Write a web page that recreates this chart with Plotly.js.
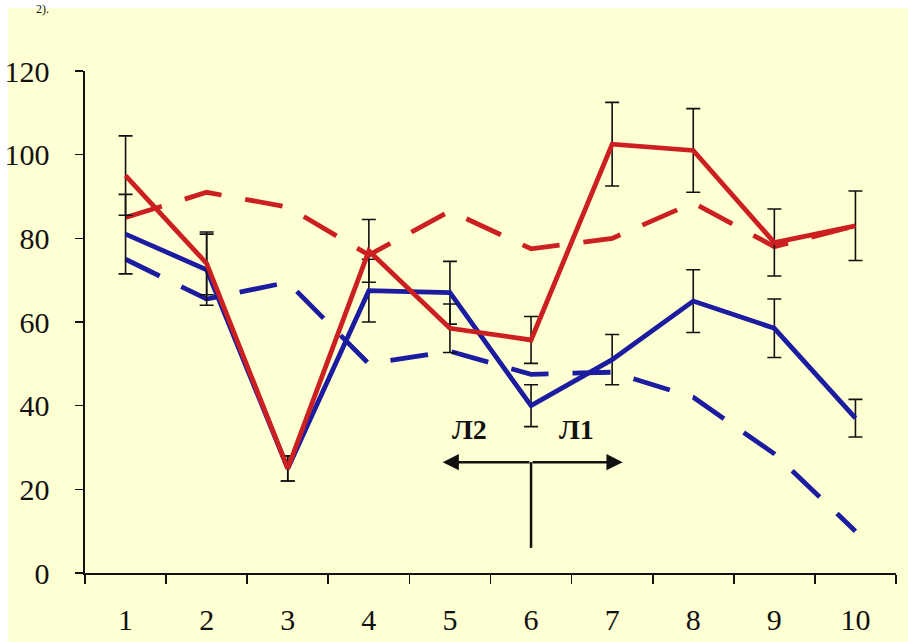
<!DOCTYPE html>
<html>
<head>
<meta charset="utf-8">
<script src="https://cdn.plot.ly/plotly-3.0.1.min.js"></script>
<style>html,body{margin:0;padding:0;background:#fff;}#chart{width:908px;height:642px;}</style>
</head>
<body>
<div id="chart"></div>
<script>
// Categories
const categories = [1, 2, 3, 4, 5, 6, 7, 8, 9, 10];
// Series values
const redSolid   = [95, 74, 25, 77, 58.5, 55.7, 102.5, 101, 79, 83];
const redErr     = [9.5, 7.5, 3, 7.5, 5.8, 5.6, 10, 10, 8, 8.3];
const redDashed  = [85, 91, 87.5, 76, 86.5, 77.5, 80, 88.5, 78, 83];
const blueSolid  = [81, 72.5, 25, 67.5, 67, 40, 51, 65, 58.5, 37];
const blueErr    = [9.5, 8.5, 3, 7.5, 7.5, 5, 6, 7.5, 7, 4.5];
const blueDashed = [75, 65.5, 69.5, 50, 53, 47.5, 48, 42, 28.5, 10];
// Tick labels
const xTickLabels = ['1','2','3','4','5','6','7','8','9','10'];
const yTickVals = [0, 20, 40, 60, 80, 100, 120];
// Annotation labels
const leftLabel = 'Л2';
const rightLabel = 'Л1';
const topText = '2).';

const RED = '#cc2020';
const BLUE = '#1c1ca0';
const CREAM = '#ffffd4';

const W = 908, H = 642;
const M = {l: 85, r: 12, t: 71, b: 69};
const pw = W - M.l - M.r, ph = H - M.t - M.b;
const px2x = p => (p - M.l) / pw;
const py2y = p => (H - M.b - p) / ph;

const errStyle = {type: 'data', visible: true, color: '#111', thickness: 1.6, width: 7};

const traces = [
  {x: categories, y: redDashed, mode: 'lines', line: {color: RED, width: 4.8, dash: '38px,24px'}, hoverinfo: 'skip'},
  {x: categories, y: blueDashed, mode: 'lines', line: {color: BLUE, width: 4.8, dash: '38px,24px'}, hoverinfo: 'skip'},
  {x: categories, y: blueSolid, mode: 'lines', line: {color: BLUE, width: 4.8},
   error_y: Object.assign({array: blueErr}, errStyle)},
  {x: categories, y: redSolid, mode: 'lines', line: {color: RED, width: 4.8},
   error_y: Object.assign({array: redErr}, errStyle)}
];

const arrowY = 26.5, arrowCx = 6, arrowL = 4.91, arrowR = 7.13, stemBottom = 6;

const layout = {
  width: W, height: H,
  margin: M,
  showlegend: false,
  paper_bgcolor: '#ffffff',
  plot_bgcolor: 'rgba(0,0,0,0)',
  font: {family: '"Liberation Serif", "Times New Roman", serif', color: '#111', size: 30},
  xaxis: {
    range: [0.5, 10.5], fixedrange: true,
    tickmode: 'array', tickvals: categories, ticktext: xTickLabels,
    ticks: '', ticklabelstandoff: 19,
    showline: true, linecolor: '#111', linewidth: 1.6,
    showgrid: false, zeroline: false,
    minor: {tickmode: 'array', tickvals: [0.5,1.5,2.5,3.5,4.5,5.5,6.5,7.5,8.5,9.5,10.5],
            ticks: 'outside', ticklen: 9, tickwidth: 1.6, tickcolor: '#111', showgrid: false},
    tickfont: {size: 30}
  },
  yaxis: {
    range: [0, 120], fixedrange: true,
    tickmode: 'array', tickvals: yTickVals,
    ticks: 'outside', ticklen: 8, tickwidth: 1.6, tickcolor: '#111',
    ticklabelstandoff: 20,
    showline: true, linecolor: '#111', linewidth: 1.6,
    showgrid: false, zeroline: false,
    tickfont: {size: 30}
  },
  shapes: [
    {type: 'rect', xref: 'paper', yref: 'paper', layer: 'below',
     x0: px2x(8), x1: px2x(W + 2), y0: py2y(H + 2), y1: py2y(8),
     fillcolor: CREAM, line: {width: 0}},
    {type: 'line', xref: 'x', yref: 'y', x0: arrowCx, x1: arrowCx, y0: arrowY, y1: stemBottom,
     line: {color: '#111', width: 2.5}}
  ],
  annotations: [
    {xref: 'x', yref: 'y', x: arrowL, y: arrowY, ax: arrowCx, ay: arrowY, axref: 'x', ayref: 'y',
     showarrow: true, arrowhead: 2, arrowsize: 1.3, arrowwidth: 2.5, arrowcolor: '#111', text: ''},
    {xref: 'x', yref: 'y', x: arrowR, y: arrowY, ax: arrowCx, ay: arrowY, axref: 'x', ayref: 'y',
     showarrow: true, arrowhead: 2, arrowsize: 1.3, arrowwidth: 2.5, arrowcolor: '#111', text: ''},
    {xref: 'x', yref: 'y', x: 5.24, y: 34.3, text: '<b>' + leftLabel + '</b>', showarrow: false,
     font: {size: 28, color: '#111'}},
    {xref: 'x', yref: 'y', x: 6.56, y: 34.3, text: '<b>' + rightLabel + '</b>', showarrow: false,
     font: {size: 28, color: '#111'}},
    {xref: 'paper', yref: 'paper', x: px2x(34), y: py2y(0), xanchor: 'left', yanchor: 'top',
     text: topText, showarrow: false, font: {size: 12, color: '#111'}}
  ]
};

Plotly.newPlot('chart', traces, layout, {displayModeBar: false, staticPlot: true});
</script>
</body>
</html>
